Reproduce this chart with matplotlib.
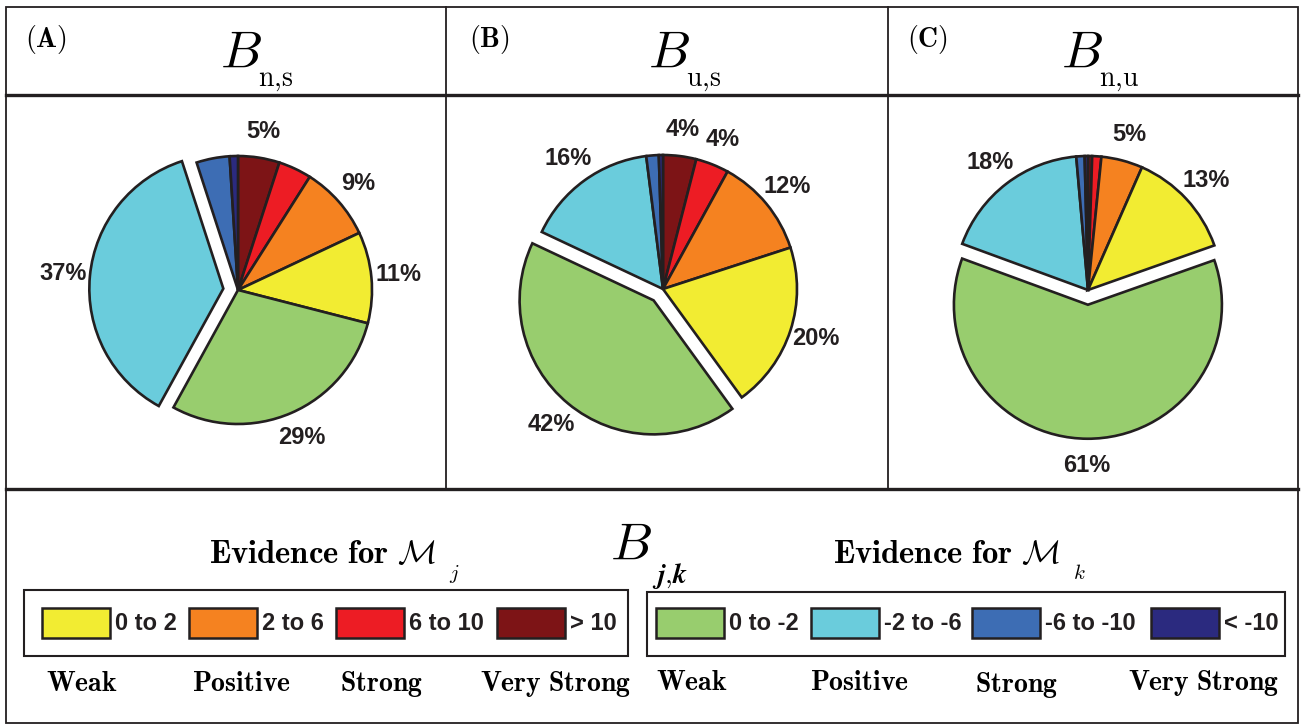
import matplotlib
matplotlib.use('Agg')
import matplotlib.pyplot as plt
from matplotlib.patches import Rectangle

plt.rcParams['mathtext.fontset'] = 'cm'

# slice order is clockwise from 12 o'clock
bins = ['> 10', '6 to 10', '2 to 6', '0 to 2', '0 to -2', '-2 to -6', '-6 to -10', '< -10']
colors = ['#7d1416', '#ed1c24', '#f58220', '#f2ec32', '#98cd6e', '#6accdc', '#3d6db4', '#2b2a7f']

share_ns = [5, 4, 9, 11, 29, 37, 4, 1]
share_us = [4, 4, 12, 20, 42, 16, 1.5, 0.5]
share_nu = [0.5, 1.1, 5, 13, 61, 18, 1, 0.4]

show_ns = [1, 0, 1, 1, 1, 1, 0, 0]
show_us = [1, 1, 1, 1, 1, 1, 0, 0]
show_nu = [0, 0, 1, 1, 1, 1, 0, 0]

exploded = [5, 4, 4]   # index of the pulled-out slice in each pie
panel_tags = ['(A)', '(B)', '(C)']
panel_subs = ['n{,}s', 'u{,}s', 'n{,}u']

legend_j = ['0 to 2', '2 to 6', '6 to 10', '> 10']
legend_k = ['0 to -2', '-2 to -6', '-6 to -10', '< -10']
strength = ['Weak', 'Positive', 'Strong', 'Very Strong']

W, H = 1304, 724
fig = plt.figure(figsize=(W / 100, H / 100), dpi=100)

bg = fig.add_axes([0, 0, 1, 1])
bg.set_xlim(0, W)
bg.set_ylim(H, 0)
bg.axis('off')

dark = '#231f20'

# frame and dividers
bg.add_patch(Rectangle((6, 7), 1292, 716, fill=False, lw=1.3, ec=dark))
bg.plot([6, 1298], [95, 95], color=dark, lw=2.4)
bg.plot([6, 1298], [489, 489], color=dark, lw=2.4)
for xv in [446, 888]:
    bg.plot([xv, xv], [7, 489], color=dark, lw=1.3)

# headers
tag_x = [25, 469, 907]
b_x = [220, 648, 1061]
for i in range(3):
    bg.text(tag_x[i], 47, r'$\mathbf{' + panel_tags[i] + '}$', fontsize=20, va='baseline')
    bg.text(b_x[i], 68, r'$B$', fontsize=38, va='baseline')
    bg.text(b_x[i] + 38, 86, r'$\mathrm{' + panel_subs[i] + '}$', fontsize=20, va='baseline')

# pies
R = 134
S = 210
centers = [(238, 290), (663, 289), (1088, 290)]
shares = [share_ns, share_us, share_nu]
shows = [show_ns, show_us, show_nu]
for i in range(3):
    cx, cy = centers[i]
    ax = fig.add_axes([(cx - S) / W, 1 - (cy + S) / H, 2 * S / W, 2 * S / H])
    labels = [f'{v:g}%' if s else '' for v, s in zip(shares[i], shows[i])]
    explode = [0.11 if k == exploded[i] else 0 for k in range(len(bins))]
    wedges, texts = ax.pie(shares[i], colors=colors, startangle=90, counterclock=False,
                           explode=explode, labels=labels, labeldistance=1.2,
                           wedgeprops=dict(edgecolor=dark, linewidth=1.9),
                           textprops=dict(fontsize=17, fontweight='bold',
                                          family='Liberation Sans', color=dark),
                           normalize=True)
    for t in texts:
        t.set_ha('center')
        t.set_va('center')
    ax.set_xlim(-S / R, S / R)
    ax.set_ylim(-S / R, S / R)
    ax.axis('off')

# bottom legend
bg.text(610, 560, r'$B$', fontsize=38, va='baseline')
bg.text(652, 583, r'$\boldsymbol{j{,}k}$', fontsize=20, va='baseline')

for x0, sub in [(209, 'j'), (833, 'k')]:
    bg.text(x0, 563, r'$\mathbf{Evidence\ for}\ \mathcal{M}$', fontsize=23.5, va='baseline')
    bg.text(x0 + 240, 579, '$' + sub + '$', fontsize=15, va='baseline')

leg_font = dict(fontsize=17, fontweight='bold', family='Liberation Sans', color=dark, va='center')

bg.add_patch(Rectangle((24, 590), 604, 66, fill=False, lw=1.5, ec=dark))
bg.add_patch(Rectangle((647, 592), 638, 64, fill=False, lw=1.5, ec=dark))

patch_x_j = [42, 189, 336, 497]
patch_x_k = [656, 811, 972, 1151]
for k in range(4):
    bg.add_patch(Rectangle((patch_x_j[k], 608), 68, 30, fc=colors[3 - k], ec=dark, lw=1.8))
    bg.text(patch_x_j[k] + 73, 624, legend_j[k], **leg_font)
    bg.add_patch(Rectangle((patch_x_k[k], 608), 68, 30, fc=colors[4 + k], ec=dark, lw=1.8))
    bg.text(patch_x_k[k] + 73, 624, legend_k[k], **leg_font)

word_x_j = [46, 192, 340, 480]
word_x_k = [656, 810, 975, 1128]
for k in range(4):
    bg.text(word_x_j[k], 691, r'$\mathbf{' + strength[k].replace(' ', r'\ ') + '}$',
            fontsize=20, va='baseline')
    bg.text(word_x_k[k], 690 + (2 if k == 2 else 0),
            r'$\mathbf{' + strength[k].replace(' ', r'\ ') + '}$', fontsize=20, va='baseline')

fig.savefig('out.png', dpi=100)
